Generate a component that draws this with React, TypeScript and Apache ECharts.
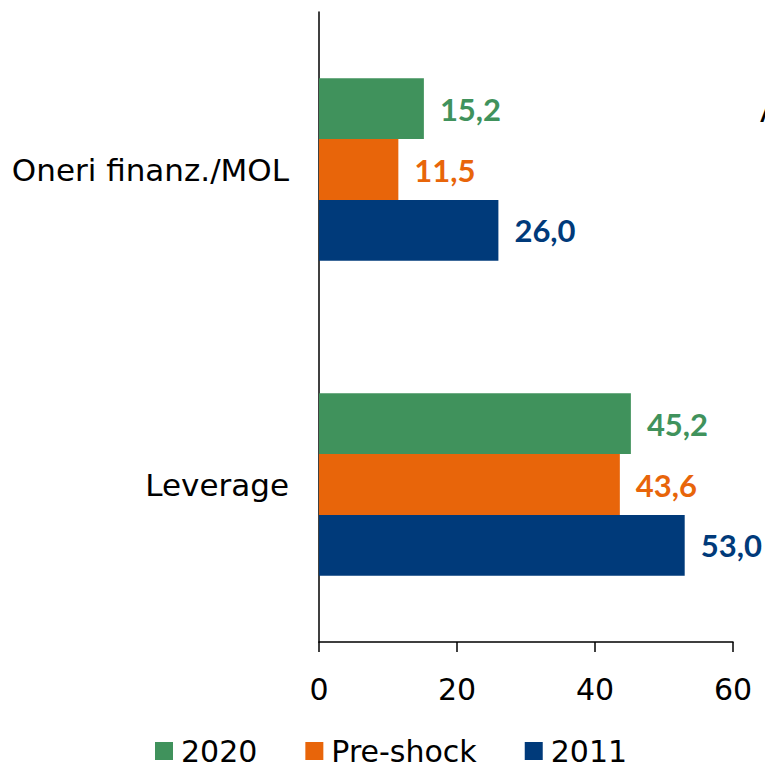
import React, { useEffect, useRef } from "react";
import * as echarts from "echarts";

const categories = ["Leverage", "Oneri finanz./MOL"];
const seriesNames = ["2020", "Pre-shock", "2011"];
const values2020 = [45.2, 15.2];
const valuesPreShock = [43.6, 11.5];
const values2011 = [53.0, 26.0];
const xTicks = [0, 20, 40, 60];

const colors = ["#40925C", "#E8650A", "#003A7A"];
const FONT = "'DejaVu Sans', sans-serif";
const BOLD_FONT = "Lato, sans-serif";

export default function App() {
  const ref = useRef<HTMLDivElement>(null);
  useEffect(() => {
    if (!ref.current) return;
    const chart = echarts.init(ref.current, null, { renderer: "svg" });
    const data = [values2020, valuesPreShock, values2011];
    chart.setOption({
      animation: false,
      textStyle: { fontFamily: FONT },
      grid: { left: 319, right: 32, top: 12, bottom: 129, containLabel: false },
      legend: {
        data: seriesNames,
        bottom: 0,
        left: 150,
        itemWidth: 18,
        itemHeight: 18,
        itemGap: 48,
        icon: "rect",
        textStyle: { fontSize: 30, color: "#000", fontFamily: FONT, padding: [0, 0, 0, 3] },
      },
      xAxis: {
        type: "value",
        min: xTicks[0],
        max: xTicks[xTicks.length - 1],
        interval: 20,
        axisLine: { show: true, lineStyle: { color: "#000", width: 1.5 } },
        axisTick: { show: true, length: 10, lineStyle: { color: "#000", width: 1.5 } },
        splitLine: { show: false },
        axisLabel: { fontSize: 30, color: "#000", margin: 32, fontFamily: FONT },
      },
      yAxis: {
        type: "category",
        data: categories,
        axisLine: { show: true, lineStyle: { color: "#000", width: 1.5 } },
        axisTick: { show: false },
        axisLabel: { fontSize: 31, color: "#000", margin: 30, fontFamily: FONT },
      },
      graphic: [
        {
          type: "text",
          left: 760,
          top: 96,
          style: { text: "A", fontSize: 30, fill: "#000", fontFamily: FONT },
        },
      ],
      series: seriesNames.map((name, i) => ({
        name,
        type: "bar",
        data: data[i],
        barGap: "0%",
        barCategoryGap: "42%",
        itemStyle: { color: colors[i] },
        label: {
          show: true,
          position: "right",
          distance: 16,
          color: colors[i],
          fontWeight: "bold",
          fontSize: 31,
          fontFamily: BOLD_FONT,
          formatter: (p: any) => Number(p.value).toFixed(1).replace(".", ","),
        },
      })),
    });
    return () => chart.dispose();
  }, []);
  return <div ref={ref} style={{ width: 765, height: 771, position: "absolute", left: 0, top: 0 }} />;
}
